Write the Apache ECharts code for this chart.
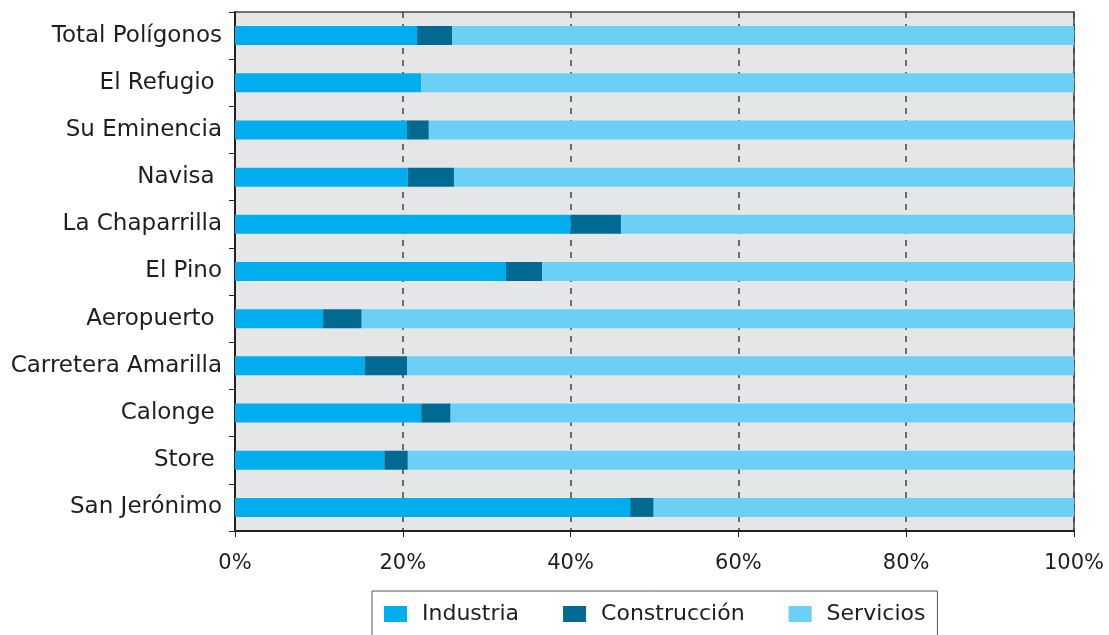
<!DOCTYPE html>
<html>
<head>
<meta charset="utf-8">
<script src="https://cdn.jsdelivr.net/npm/echarts@6/dist/echarts.min.js"></script>
<style>
  html, body { margin: 0; padding: 0; background: #fff; }
  #chart { width: 1109px; height: 635px; }
</style>
</head>
<body>
<div id="chart"></div>
<script>
// polígonos (de arriba a abajo)
var categorias = ['Total Polígonos', 'El Refugio ', 'Su Eminencia', 'Navisa ', 'La Chaparrilla',
  'El Pino', 'Aeropuerto ', 'Carretera Amarilla', 'Calonge ', 'Store ', 'San Jerónimo'];

// % de empresas por sector
var industria    = [21.7, 22.2, 20.5, 20.6, 40.0, 32.3, 10.5, 15.5, 22.2, 17.8, 47.1];
var construccion = [4.2, 0, 2.6, 5.5, 6.0, 4.3, 4.6, 5.0, 3.5, 2.8, 2.8];
var servicios    = [74.1, 77.8, 76.9, 73.9, 54.0, 63.4, 84.9, 79.5, 74.3, 79.4, 50.1];

var fuente = '"DejaVu Sans", sans-serif';
var myChart = echarts.init(document.getElementById('chart'));

function serie(nombre, datos, color) {
    return {
        name: nombre,
        type: 'bar',
        stack: 'total',
        barWidth: 19,
        itemStyle: { color: color },
        emphasis: { disabled: true },
        data: datos
    };
}

var option = {
    animation: false,
    grid: {
        left: 235, right: 35, top: 12, bottom: 104,
        show: true,
        backgroundColor: '#e5e6e8',
        borderColor: '#444',
        borderWidth: 1.5
    },
    legend: {
        left: 372,
        top: 591,
        padding: [12, 12, 22, 12],
        borderColor: '#555',
        borderWidth: 1,
        itemWidth: 23,
        itemHeight: 16,
        itemGap: 44,
        icon: 'rect',
        textStyle: { fontFamily: fuente, fontSize: 22, color: '#1e1e1e', padding: [0, 0, 0, 10] },
        data: ['Industria', 'Construcción', 'Servicios']
    },
    xAxis: {
        type: 'value',
        min: 0, max: 100, interval: 20,
        axisLine: { show: true, lineStyle: { color: '#222', width: 2 } },
        axisTick: { show: true, length: 6, lineStyle: { color: '#222', width: 1 } },
        axisLabel: { formatter: '{value}%', fontFamily: fuente, fontSize: 21, color: '#1e1e1e', margin: 22 },
        splitLine: { show: true, lineStyle: { color: '#444', width: 1.5, type: [6, 6] } }
    },
    yAxis: {
        type: 'category',
        inverse: true,
        data: categorias,
        axisLine: { show: true, lineStyle: { color: '#222', width: 2 } },
        axisTick: { show: true, length: 6, lineStyle: { color: '#222', width: 1 } },
        axisLabel: { fontFamily: fuente, fontSize: 23, color: '#1e1e1e', margin: 13 },
        splitLine: { show: false }
    },
    series: [
        serie('Industria', industria, '#00aeef'),
        serie('Construcción', construccion, '#006a93'),
        serie('Servicios', servicios, '#6bcff6')
    ]
};

myChart.setOption(option);
</script>
</body>
</html>
